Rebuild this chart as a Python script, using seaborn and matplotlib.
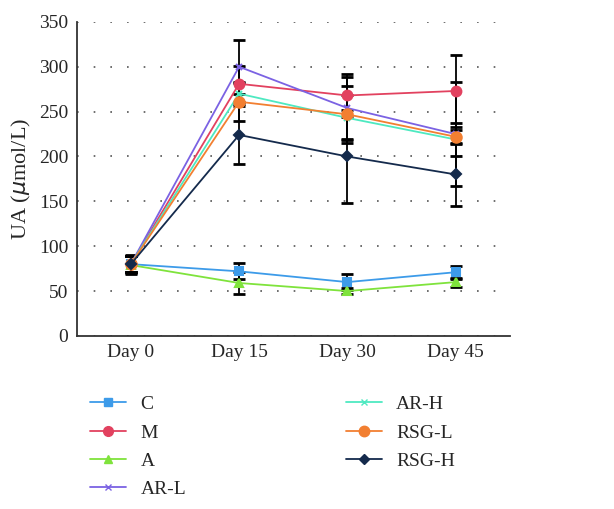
import numpy as np
import pandas as pd
import matplotlib
matplotlib.use('Agg')
import matplotlib.pyplot as plt
import seaborn as sns
from matplotlib.lines import Line2D

# chart data
days = ['Day 0', 'Day 15', 'Day 30', 'Day 45']
groups = ['C', 'M', 'A', 'AR-L', 'AR-H', 'RSG-L', 'RSG-H']

ua_c = [80, 72, 60, 71]
ua_m = [80, 281, 268, 273]
ua_a = [79, 59, 50, 60]
ua_arl = [80, 300, 254, 225]
ua_arh = [80, 270, 243, 219]
ua_rsgl = [80, 261, 247, 222]
ua_rsgh = [80, 224, 200, 180]

err_c = [9, 9, 9, 7]
err_m = [9, 20, 24, 40]
err_a = [10, 12, 3, 5]
err_arl = [9, 30, 35, 58]
err_arh = [9, 12, 25, 18]
err_rsgl = [9, 22, 32, 8]
err_rsgh = [10, 32, 52, 35]

values = [ua_c, ua_m, ua_a, ua_arl, ua_arh, ua_rsgl, ua_rsgh]
errors = [err_c, err_m, err_a, err_arl, err_arh, err_rsgl, err_rsgh]

colors = ['#3d9be9', '#e2415f', '#7fe33c', '#7b62e3', '#4ee9c1', '#f27f31', '#142a4c']
markers = ['s', 'o', '^', 'x', 'x', 'o', 'D']
msizes = [6, 7, 6, 5, 5, 7.5, 5]

sns.set_style('white')
plt.rcParams['font.family'] = ['Liberation Serif', 'DejaVu Serif']

fig = plt.figure(figsize=(6.14, 5.09), dpi=100)
ax = fig.add_axes([0.125, 0.34, 0.705, 0.617])

x_pos = np.arange(len(days))

# black error bars first, lines on top
for vals, errs in zip(values, errors):
    ax.errorbar(x_pos, vals, yerr=errs, fmt='none', ecolor='black',
                elinewidth=1.3, capsize=4, capthick=2, zorder=2)

# one lineplot per group (seaborn won't mix filled and line markers)
for g, vals, col, m, ms in zip(groups, values, colors, markers, msizes):
    sub = pd.DataFrame({'x': x_pos, 'ua': vals})
    sns.lineplot(data=sub, x='x', y='ua', color=col, marker=m, markersize=ms,
                 markeredgecolor=col, markeredgewidth=1.5, linewidth=1.3,
                 ax=ax, zorder=3)

ax.set_xlim(-0.5, 3.5)
ax.set_ylim(0, 350)
ax.set_yticks(range(0, 351, 50))
ax.set_xticks(x_pos)
ax.set_xticklabels(days)
ax.tick_params(axis='both', labelsize=14, length=0, pad=6)
ax.set_xlabel('')
ax.set_ylabel(r'UA ($\mu$mol/L)', fontsize=16)

# dotted horizontal grid
ax.yaxis.grid(True, color='#555555', linestyle=(0, (1, 9)), linewidth=1.2)
ax.xaxis.grid(False)
for s in ['top', 'right']:
    ax.spines[s].set_visible(False)
for s in ['left', 'bottom']:
    ax.spines[s].set_color('#333333')
    ax.spines[s].set_linewidth(1.3)

handles = [Line2D([0], [0], color=c, marker=m, markersize=ms, markeredgecolor=c, lw=1.3)
           for c, m, ms in zip(colors, markers, msizes)]
fig.legend(handles, groups, ncol=2, loc='upper left', bbox_to_anchor=(0.118, 0.257),
           frameon=False, fontsize=14, handlelength=1.85, columnspacing=8.2,
           labelspacing=0.55, handletextpad=0.75)

plt.savefig('out.png', dpi=100)
